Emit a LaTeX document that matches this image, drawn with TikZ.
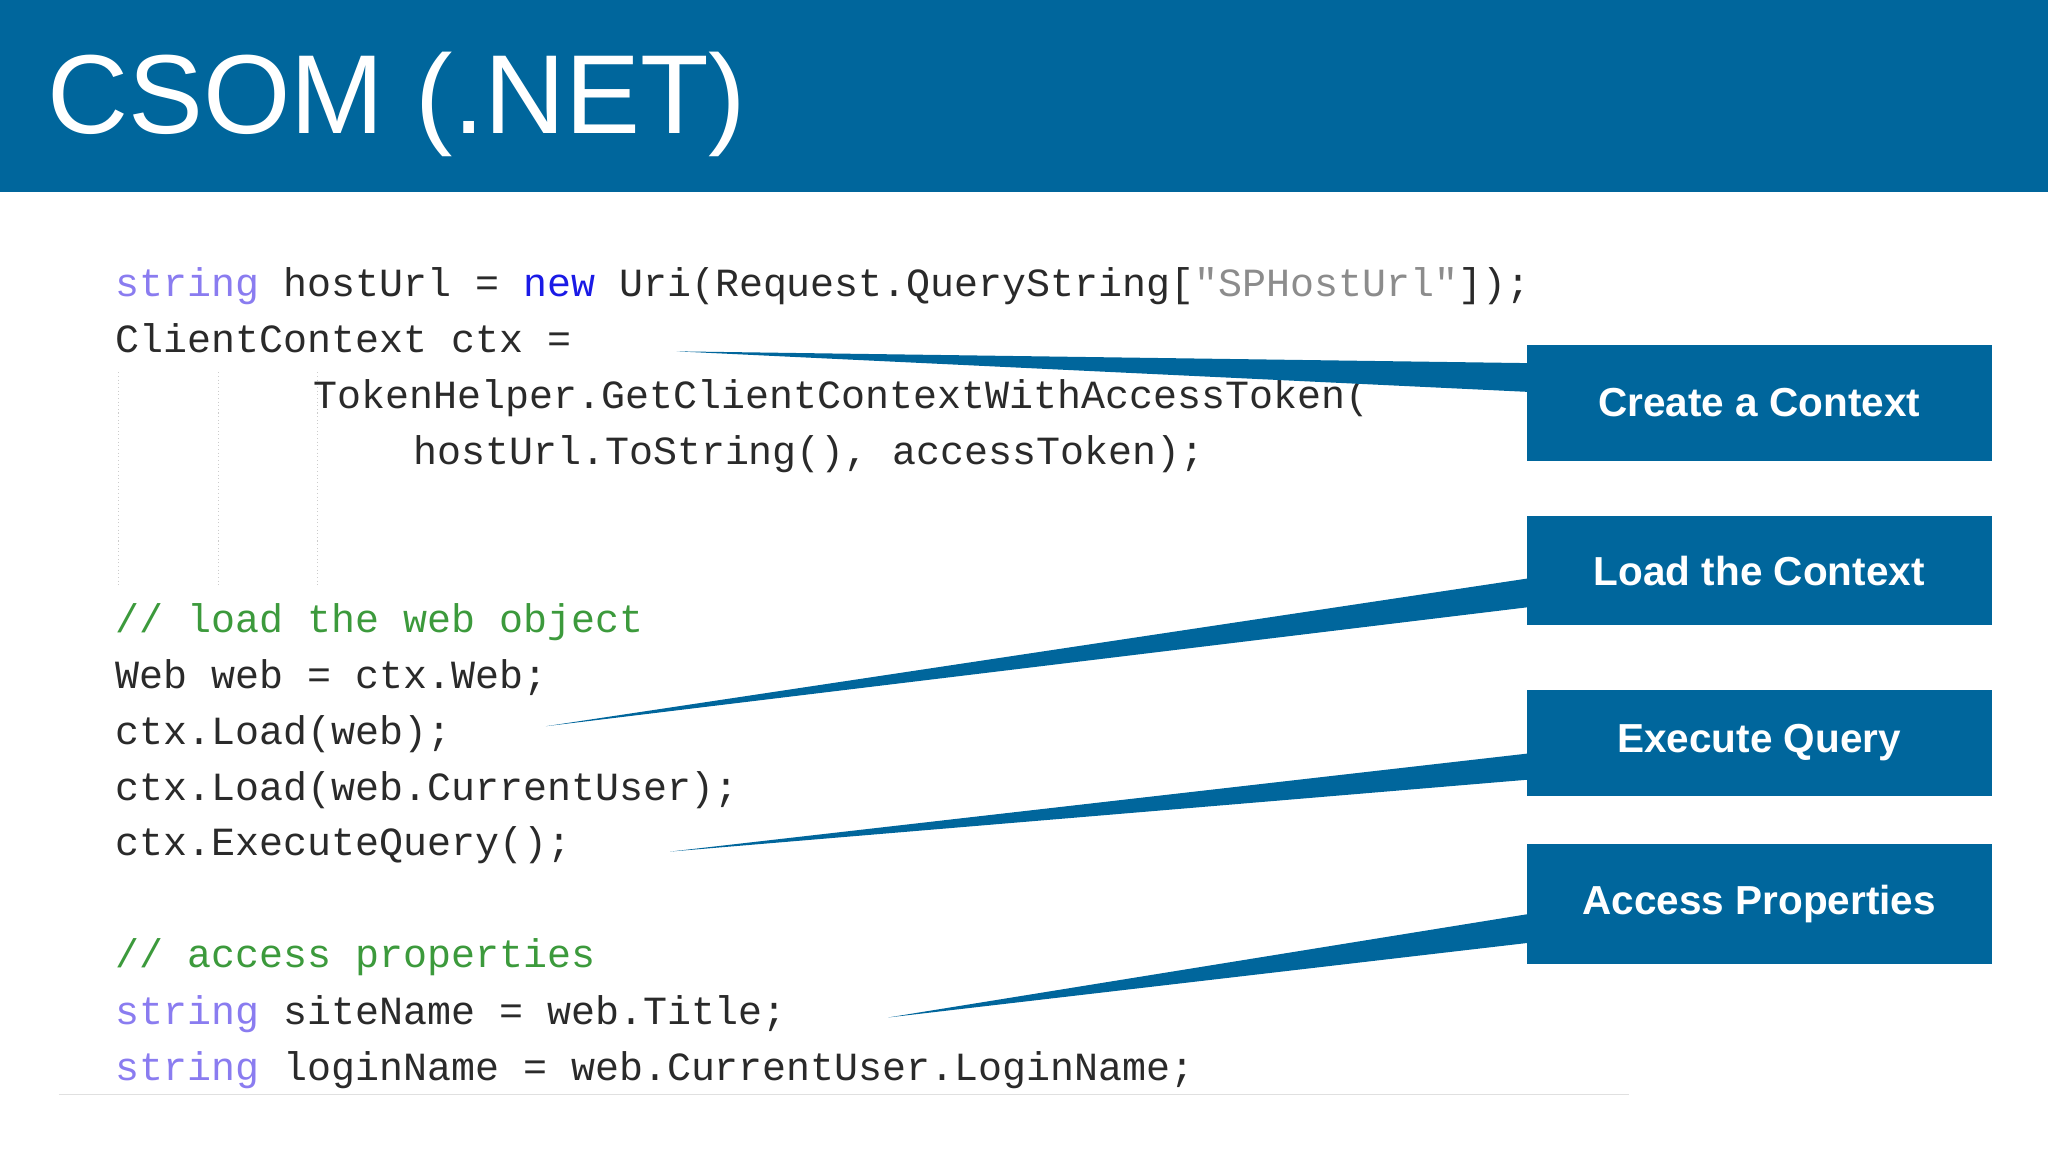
\documentclass[tikz,border=0pt]{standalone}
\usepackage{fontspec}
\setmainfont{Liberation Sans}
\newfontfamily\codefont{Liberation Mono}
\definecolor{band}{HTML}{00669C}
\definecolor{kw}{HTML}{8A7CF0}
\definecolor{nw}{HTML}{1A1AE6}
\definecolor{cm}{HTML}{3C9A3C}
\definecolor{lit}{HTML}{8C8C8C}
\definecolor{tx}{HTML}{2A2A2A}
\tikzset{
  codeline/.style={anchor=base west, inner sep=0, font=\codefont\fontsize{15.3}{16}\selectfont, text=tx},
  callbox/.style={fill=band, draw=band, minimum width=177.5pt, minimum height=44pt, anchor=north west, text=white, font=\bfseries\fontsize{15.5}{18}\selectfont, inner sep=0},
  wedge/.style={fill=band, draw=none}
}
\begin{document}
\begin{tikzpicture}[x=0.5pt,y=-0.5pt]
\useasboundingbox (0,0) rectangle (1568,882);
\fill[white] (0,0) rectangle (1568,882);
\fill[band] (0,0) rectangle (1568,147);
\node[anchor=base west, text=white, font=\fontsize{43}{48}\selectfont, inner sep=0] (title) at (36,102) {CSOM (.NET)};
% guides
\foreach \xx in {91,167,243} \draw[densely dotted, black!20] (\xx,285) -- (\xx,450);
\draw[black!12, line width=0.6pt] (45,838) -- (1247,838);
% code
\node[codeline] (l1) at (88,227) {\textcolor{kw}{string} hostUrl = \textcolor{nw}{new} Uri(Request.QueryString[\textcolor{lit}{"SPHostUrl"}]);};
\node[codeline] (l2) at (88,270) {ClientContext ctx =};
\node[codeline] (l3) at (240,313) {TokenHelper.GetClientContextWithAccessToken(};
\node[codeline] (l4) at (316,356) {hostUrl.ToString(), accessToken);};
\node[codeline, text=cm] (l5) at (88,484) {// load the web object};
\node[codeline] (l6) at (88,527) {Web web = ctx.Web;};
\node[codeline] (l7) at (88,570) {ctx.Load(web);};
\node[codeline] (l8) at (88,613) {ctx.Load(web.CurrentUser);};
\node[codeline] (l9) at (88,655) {ctx.ExecuteQuery();};
\node[codeline, text=cm] (l10) at (88,741) {// access properties};
\node[codeline] (l11) at (88,784) {\textcolor{kw}{string} siteName = web.Title;};
\node[codeline] (l12) at (88,827) {\textcolor{kw}{string} loginName = web.CurrentUser.LoginName;};
% boxes
\node[callbox, minimum height=44pt] (b1) at (1169,264) {Create a Context};
\node[callbox, minimum height=41.5pt] (b2) at (1169,395) {Load the Context};
\node[callbox, minimum height=40.5pt] (b3) at (1169,528) {Execute Query};
\node[callbox, minimum height=45.5pt] (b4) at (1169,646) {Access Properties};
% wedges
\coordinate (t1) at (518,269); \coordinate (t2) at (418,556);
\coordinate (t3) at (513,652); \coordinate (t4) at (680,779);
\fill[wedge] (t1) -- (b1.west |- 0,278) -- (b1.west |- 0,300) -- cycle;
\fill[wedge] (t2) -- (b2.west |- 0,443) -- (b2.west |- 0,465) -- cycle;
\fill[wedge] (t3) -- (b3.west |- 0,577) -- (b3.west |- 0,597) -- cycle;
\fill[wedge] (t4) -- (b4.west |- 0,700) -- (b4.west |- 0,722) -- cycle;
\end{tikzpicture}
\end{document}
